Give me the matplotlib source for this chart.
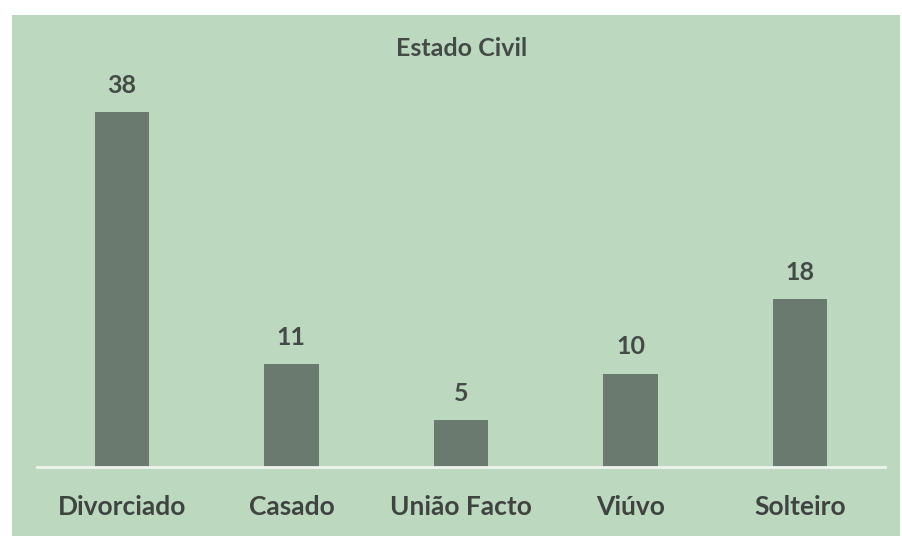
import matplotlib.pyplot as plt
from matplotlib.patches import Rectangle

# Dados
categorias = ['Divorciado', 'Casado', 'União Facto', 'Viúvo', 'Solteiro']
valores = [38, 11, 5, 10, 18]

plt.rcParams['font.family'] = ['Lato', 'DejaVu Sans']

fig = plt.figure(figsize=(9.03, 5.36), dpi=100)
fig.patch.set_facecolor('white')

# fundo verde do gráfico
fig.patches.append(Rectangle((12 / 903, 0), 888 / 903, 521 / 536,
                             transform=fig.transFigure, facecolor='#bcd9c0',
                             edgecolor='none', zorder=-10))

ax = fig.add_axes([37 / 903, 69 / 536, 848 / 903, 373.6 / 536])
ax.set_facecolor('none')

x = range(len(categorias))
barras = ax.bar(x, valores, width=0.32, color='#6b7a6e')

for b, v in zip(barras, valores):
    ax.annotate(str(v), (b.get_x() + b.get_width() / 2, v),
                xytext=(0, 11), textcoords='offset points',
                ha='center', va='bottom', fontsize=18, fontweight='bold',
                color='#444a46')

ax.set_xlim(-0.5, 4.5)
ax.set_ylim(0, 40)
ax.set_xticks(list(x))
ax.set_xticklabels(categorias, fontsize=19, fontweight='bold', color='#3f4441')
ax.tick_params(axis='x', length=0, pad=20)
ax.set_yticks([])

for lado in ['top', 'right', 'left']:
    ax.spines[lado].set_visible(False)
ax.spines['bottom'].set_color('#eef3ee')
ax.spines['bottom'].set_linewidth(2)

fig.text(462 / 903, 1 - 49 / 536, 'Estado Civil', ha='center', va='center',
         fontsize=18, fontweight='bold', color='#444a46')

fig.savefig('out.png', dpi=100)
